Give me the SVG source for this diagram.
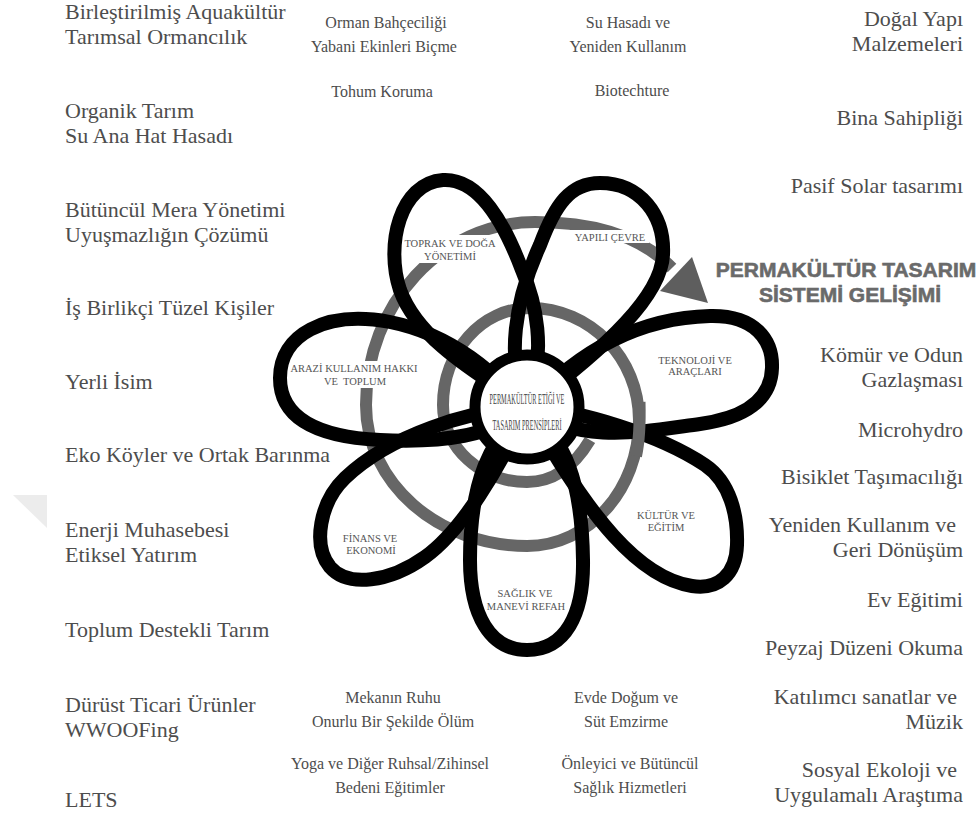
<svg xmlns="http://www.w3.org/2000/svg" width="979" height="817" viewBox="0 0 979 817">
<style>
.t{font-family:"Liberation Serif","Times New Roman",serif;font-size:22px;fill:#4d4d4d}
.r{text-anchor:end}
.c{text-anchor:middle}
.s{font-size:16px}
.lb{font-family:"Liberation Serif","Times New Roman",serif;font-size:10.5px;fill:#555;text-anchor:middle;white-space:pre}
.petal{fill:none;stroke:#000;stroke-width:14;stroke-linejoin:round;stroke-linecap:round}
.spiral{fill:none;stroke:#666;stroke-width:12}
.hd{font-family:"Liberation Sans",Arial,sans-serif;font-weight:bold;font-size:21px;fill:#6a6a6a;stroke:#6a6a6a;stroke-width:0.6;text-anchor:middle}
</style>
<rect width="979" height="817" fill="#fff"/>
<polygon points="13,495 47,495 47,528" fill="#ececec"/>

<g id="spiral">
<path class="spiral" d="M590,440 C575,465 555,482 527,482 C480.6,482 443,447.5 443,405 C443,351.4 482,308 530,308 C590.2,308 639,358.1 639,420 C639,489.6 588.9,546 527,546 C438.1,546 366,482.9 366,405 C366,304 441.7,222 535,222 C590,222 640,235 672,268"/>
<polygon points="660,291 692,257 708,303" fill="#5e5e5e"/>
<rect x="401" y="235" width="98" height="28" fill="#fff"/>
<rect x="571" y="230" width="78" height="13" fill="#fff"/>
<rect x="287" y="361" width="134" height="27" fill="#fff"/>
</g>

<g id="connectors">
<path id="p-left" class="petal" d="M527,407 C495,375 455,335 390,322 C325,310 280,335 280,378 C280,420 320,437 380,440 C440,443 495,437 527,407"/>
<path id="p-topleft" class="petal" d="M527,407 C490,380 420,345 400,290 C385,245 400,183 443,180 C480,178 505,225 522,270 C535,300 548,350 527,407"/>
<path id="p-topright" class="petal" d="M527,407 C505,360 515,300 540,245 C555,205 570,183 600,183 C640,183 665,215 663,255 C661,295 610,345 527,407"/>
<path id="p-right" class="petal" d="M527,407 C570,360 630,318 710,316 C755,315 773,340 772,368 C771,400 745,418 700,424 C640,432 580,445 527,407"/>
<path id="p-lowright" class="petal" d="M527,407 C580,410 660,435 705,465 C730,482 738,515 737,545 C736,575 718,590 692,586 C640,578 590,520 527,407"/>
<path id="p-bottom" class="petal" d="M527,407 C490,440 470,480 470,560 C470,615 490,650 527,650 C565,650 584,615 583,560 C582,480 565,440 527,407"/>
<path id="p-lowleft" class="petal" d="M527,407 C470,410 390,435 345,478 C320,502 312,545 330,567 C348,588 390,582 425,557 C460,532 500,470 527,407"/>
<path class="spiral" d="M639.5,402 C640,420 639.5,440 636,456"/>
</g>

<g id="center">
<circle cx="527" cy="407" r="52" fill="#fff" stroke="#000" stroke-width="11"/>
<text x="527" y="404" class="lb" style="font-size:15px;fill:#444" textLength="75" lengthAdjust="spacingAndGlyphs">PERMAKÜLTÜR ETİĞİ VE</text>
<text x="527" y="430" class="lb" style="font-size:15px;fill:#444" textLength="69" lengthAdjust="spacingAndGlyphs">TASARIM PRENSİPLERİ</text>
</g>

<g id="petal-labels">
<text class="lb" x="450" y="247">TOPRAK VE DOĞA</text>
<text class="lb" x="450" y="260">YÖNETİMİ</text>
<text class="lb" x="610" y="241">YAPILI ÇEVRE</text>
<text class="lb" x="354" y="372">ARAZİ KULLANIM HAKKI</text>
<text class="lb" x="355" y="385">VE  TOPLUM</text>
<text class="lb" x="695" y="364">TEKNOLOJİ VE</text>
<text class="lb" x="695" y="375">ARAÇLARI</text>
<text class="lb" x="666" y="519">KÜLTÜR VE</text>
<text class="lb" x="666" y="531">EĞİTİM</text>
<text class="lb" x="370" y="542">FİNANS VE</text>
<text class="lb" x="371" y="554">EKONOMİ</text>
<text class="lb" x="525" y="597">SAĞLIK VE</text>
<text class="lb" x="526" y="610">MANEVİ REFAH</text>
</g>

<g id="heading">
<text class="hd" x="846" y="277">PERMAKÜLTÜR TASARIM</text>
<text class="hd" x="850" y="302">SİSTEMİ GELİŞİMİ</text>
</g>

<g id="left-items" class="t">
<text x="65" y="19">Birleştirilmiş Aquakültür</text>
<text x="65" y="44">Tarımsal Ormancılık</text>
<text x="65" y="118">Organik Tarım</text>
<text x="65" y="143">Su Ana Hat Hasadı</text>
<text x="65" y="217">Bütüncül Mera Yönetimi</text>
<text x="65" y="242">Uyuşmazlığın Çözümü</text>
<text x="65" y="315">İş Birlikçi Tüzel Kişiler</text>
<text x="65" y="389">Yerli İsim</text>
<text x="65" y="462">Eko Köyler ve Ortak Barınma</text>
<text x="65" y="537">Enerji Muhasebesi</text>
<text x="65" y="562">Etiksel Yatırım</text>
<text x="65" y="637">Toplum Destekli Tarım</text>
<text x="65" y="712">Dürüst Ticari Ürünler</text>
<text x="65" y="737">WWOOFing</text>
<text x="65" y="807">LETS</text>
</g>

<g id="right-items" class="t r">
<text x="963" y="26">Doğal Yapı</text>
<text x="963" y="51">Malzemeleri</text>
<text x="963" y="125">Bina Sahipliği</text>
<text x="963" y="193">Pasif Solar tasarımı</text>
<text x="963" y="362">Kömür ve Odun</text>
<text x="963" y="387">Gazlaşması</text>
<text x="963" y="437">Microhydro</text>
<text x="963" y="484">Bisiklet Taşımacılığı</text>
<text x="956" y="532">Yeniden Kullanım ve</text>
<text x="963" y="557">Geri Dönüşüm</text>
<text x="963" y="607">Ev Eğitimi</text>
<text x="963" y="655">Peyzaj Düzeni Okuma</text>
<text x="957" y="704">Katılımcı sanatlar ve</text>
<text x="963" y="729">Müzik</text>
<text x="957" y="777">Sosyal Ekoloji ve</text>
<text x="963" y="802">Uygulamalı Araştıma</text>
</g>

<g id="top-items" class="t c s">
<text x="386" y="28">Orman Bahçeciliği</text>
<text x="384" y="52">Yabani Ekinleri Biçme</text>
<text x="382" y="97">Tohum Koruma</text>
<text x="628" y="28">Su Hasadı ve</text>
<text x="628" y="52">Yeniden Kullanım</text>
<text x="632" y="96">Biotechture</text>
</g>

<g id="bottom-items" class="t c s">
<text x="393" y="703">Mekanın Ruhu</text>
<text x="393" y="727">Onurlu Bir Şekilde Ölüm</text>
<text x="390" y="769">Yoga ve Diğer Ruhsal/Zihinsel</text>
<text x="390" y="793">Bedeni Eğitimler</text>
<text x="626" y="703">Evde Doğum ve</text>
<text x="626" y="727">Süt Emzirme</text>
<text x="630" y="769">Önleyici ve Bütüncül</text>
<text x="630" y="793">Sağlık Hizmetleri</text>
</g>
</svg>
